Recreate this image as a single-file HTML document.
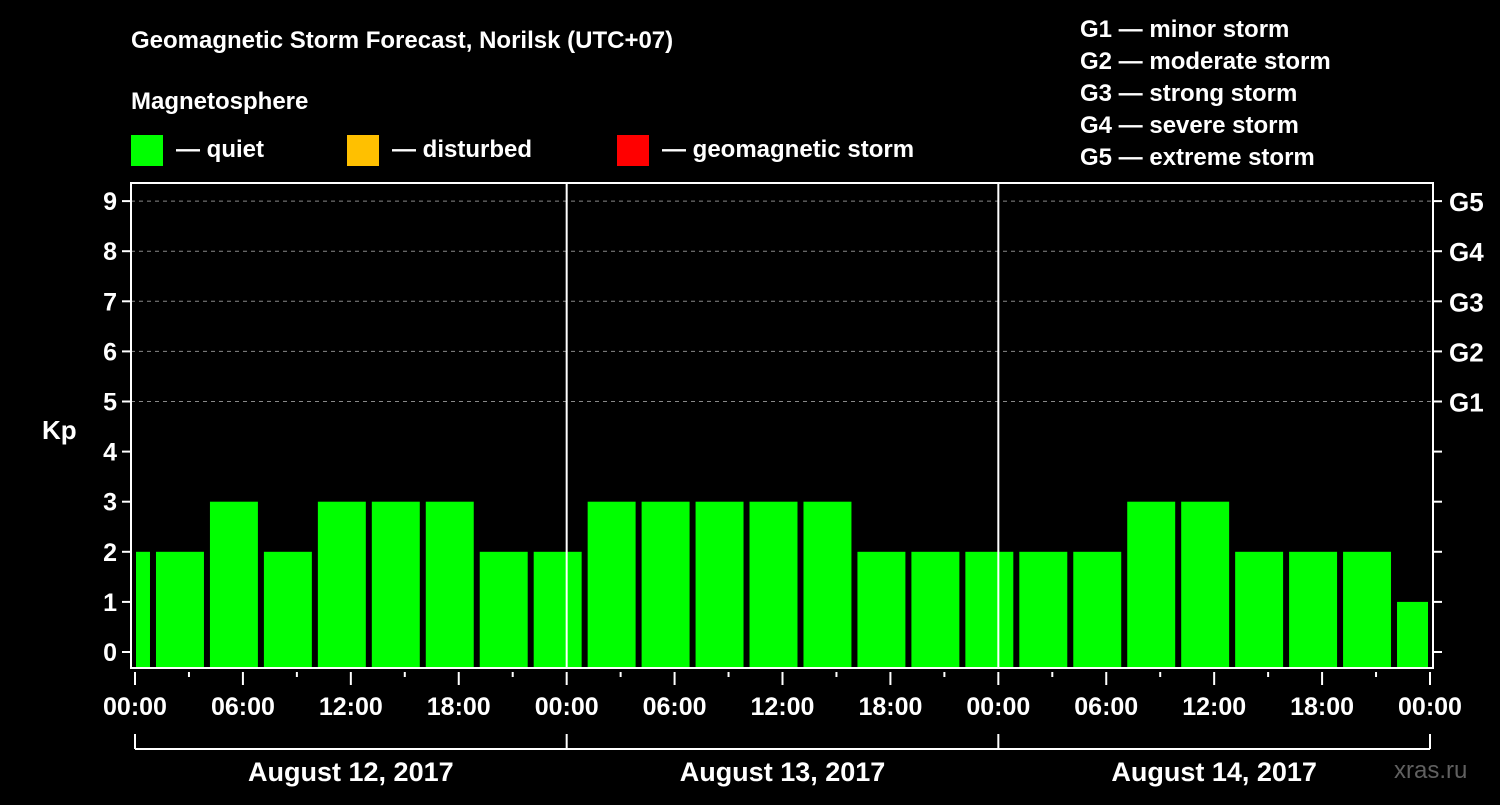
<!DOCTYPE html>
<html><head><meta charset="utf-8"><style>
body{margin:0;background:#000;width:1500px;height:800px;overflow:hidden}
svg text{font-family:"Liberation Sans",Arial,sans-serif;font-weight:bold;fill:#fff}
</style></head><body>
<svg id="chart" width="1500" height="800" viewBox="0 0 1500 800">
<rect width="1500" height="800" fill="#000"/>
<text x="131" y="48" font-size="24">Geomagnetic Storm Forecast, Norilsk (UTC+07)</text>
<text x="131" y="109" font-size="24">Magnetosphere</text>
<rect x="131" y="135" width="32" height="31" fill="#00ff00"/>
<text x="176" y="157" font-size="24">— quiet</text>
<rect x="347" y="135" width="32" height="31" fill="#ffc000"/>
<text x="392" y="157" font-size="24">— disturbed</text>
<rect x="617" y="135" width="32" height="31" fill="#ff0000"/>
<text x="662" y="157" font-size="24">— geomagnetic storm</text>
<g font-size="24">
<text x="1080" y="37">G1 — minor storm</text>
<text x="1080" y="69">G2 — moderate storm</text>
<text x="1080" y="101">G3 — strong storm</text>
<text x="1080" y="133">G4 — severe storm</text>
<text x="1080" y="165">G5 — extreme storm</text>
</g>
<text x="42" y="439" font-size="26">Kp</text>
<text x="1394" y="778" font-size="24" fill="#555" style="fill:#606060;font-weight:normal">xras.ru</text>
<g id="grid"></g><g id="bars"></g><g id="axes"></g>
</svg>
<script>
const kpValues=[2,2,3,2,3,3,3,2,2,3,3,3,3,3,2,2,2,2,2,3,3,2,2,2,1];
const yTickLabels=["0","1","2","3","4","5","6","7","8","9"];
const gLabels=["G1","G2","G3","G4","G5"];
const xTickLabels=["00:00","06:00","12:00","18:00","00:00","06:00","12:00","18:00","00:00","06:00","12:00","18:00","00:00"];
const dayLabels=["August 12, 2017","August 13, 2017","August 14, 2017"];
const binStart=-2, binHours=3, totalHours=72;
const NS="http://www.w3.org/2000/svg";
const X0=135,X1=1430,PL=131,PR=1433,PT=183,PB=668;
const xs=h=>X0+(X1-X0)*h/totalHours;
const ys=v=>652-v*50.1;
function mk(tag,attrs,parent){const e=document.createElementNS(NS,tag);for(const k in attrs)e.setAttribute(k,attrs[k]);document.getElementById(parent).appendChild(e);return e;}
// gridlines
for(let v=5;v<=9;v++){const l=mk('line',{x1:PL,x2:PR,y1:ys(v),y2:ys(v),stroke:'#888','stroke-dasharray':'4,4','stroke-width':1},'grid');

}
// bars
kpValues.forEach((v,i)=>{let a=binStart+i*binHours,b=a+binHours;a=Math.max(a,0);b=Math.min(b,totalHours);
let x1=xs(a)+(a===0?1:3),x2=xs(b)-(b===totalHours?2:3);
const c=v>=5?'#ff0000':(v>=4?'#ffc000':'#00ff00');
const r=mk('rect',{x:x1,y:ys(v),width:x2-x1,height:PB-ys(v),fill:c},'bars');

});
// axes
const box=mk('rect',{x:PL,y:PT,width:PR-PL,height:PB-PT,fill:'none',stroke:'#fff','stroke-width':2},'axes');


for(let d=1;d<3;d++){const l=mk('line',{x1:xs(d*24),x2:xs(d*24),y1:PT,y2:PB,stroke:'#fff','stroke-width':2},'axes');

}
yTickLabels.forEach((t,v)=>{const y=ys(v);
mk('line',{x1:PL-9,x2:PL,y1:y,y2:y,stroke:'#fff','stroke-width':2},'axes');
mk('line',{x1:PR,x2:PR+9,y1:y,y2:y,stroke:'#fff','stroke-width':2},'axes');
const tx=mk('text',{x:PL-14,y:y+9,'font-size':25,'text-anchor':'end'},'axes');tx.textContent=t;

});
gLabels.forEach((t,i)=>{const tx=mk('text',{x:1449,y:ys(5+i)+10,'font-size':26},'axes');tx.textContent=t;

});
for(let h=0;h<=totalHours;h+=3){const major=h%6===0;
mk('line',{x1:xs(h),x2:xs(h),y1:PB+4,y2:PB+(major?17:9),stroke:'#fff','stroke-width':2},'axes');}
xTickLabels.forEach((t,i)=>{const tx=mk('text',{x:xs(i*6),y:715,'font-size':25,'text-anchor':'middle'},'axes');tx.textContent=t;

});
mk('line',{x1:X0,x2:X1,y1:749,y2:749,stroke:'#fff','stroke-width':2},'axes');
for(let d=0;d<=3;d++)mk('line',{x1:xs(d*24),x2:xs(d*24),y1:734,y2:749,stroke:'#fff','stroke-width':2},'axes');
dayLabels.forEach((t,d)=>{const tx=mk('text',{x:xs(d*24+12),y:781,'font-size':27,'text-anchor':'middle'},'axes');tx.textContent=t;

});
</script>
</body></html>
